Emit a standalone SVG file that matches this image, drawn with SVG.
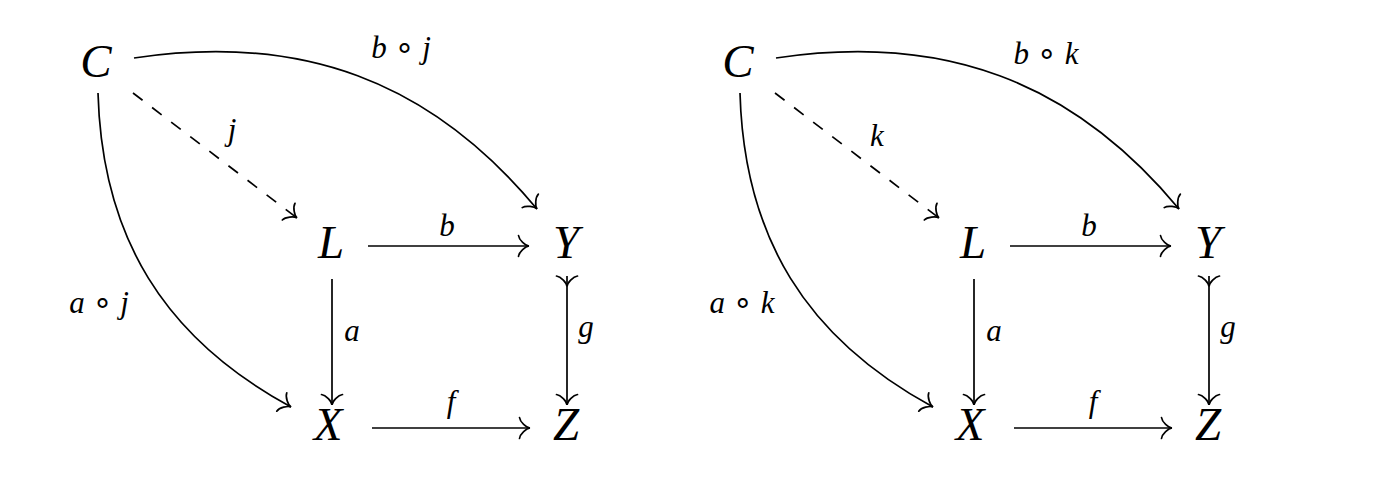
<svg xmlns="http://www.w3.org/2000/svg" width="1381" height="487" viewBox="0 0 1381 487">
<style>
.n{font-family:"Liberation Serif","DejaVu Serif",serif;font-style:italic;font-size:47px;text-anchor:middle;fill:#000}
.l{font-family:"Liberation Serif","DejaVu Serif",serif;font-style:italic;font-size:31px;text-anchor:middle;fill:#000}
.o{font-style:normal;font-family:"DejaVu Sans",sans-serif;font-size:32px}
.e{fill:none;stroke:#000;stroke-width:1.7;marker-end:url(#ah)}
.d{stroke-dasharray:12 12}
.m{marker-start:url(#tail)}
</style>
<defs>
<marker id="ah" markerUnits="userSpaceOnUse" orient="auto" refX="0" refY="0" markerWidth="30" markerHeight="30" overflow="visible">
<path d="M-10.5,-10.5 C-10,-6 -3.5,-0.3 0,0 C-3.5,0.3 -10,6 -10.5,10.5" fill="none" stroke="#000" stroke-width="1.7" stroke-dasharray="none" stroke-linecap="round"/>
</marker>
<marker id="tail" markerUnits="userSpaceOnUse" orient="auto" refX="0" refY="0" markerWidth="30" markerHeight="30" overflow="visible">
<path d="M0,-10.5 C0.5,-6 7,-0.3 10.5,0 C7,0.3 0.5,6 0,10.5" fill="none" stroke="#000" stroke-width="1.7" stroke-linecap="round"/>
</marker>
</defs>
<g id="left">
<g id="L-C"><text class="n" x="96" y="77">C</text></g>
<g id="L-L"><text class="n" x="331" y="258">L</text></g>
<g id="L-Y"><text class="n" x="566" y="258">Y</text></g>
<g id="L-X"><text class="n" x="328" y="440">X</text></g>
<g id="L-Z"><text class="n" x="566" y="440">Z</text></g>
<g id="L-edges">
<path class="e" d="M134,58 C300,33 430,80 537,209"/>
<path class="e" d="M98,93 C102,237 164,338 291,407"/>
<path class="e d" d="M133,93 L297,218"/>
<path class="e" d="M368,246 H529"/>
<path class="e" d="M372,428 H530"/>
<path class="e" d="M332,279 V405"/>
<path class="e m" d="M567,276 V405"/>
<text class="l" x="401" y="58">b <tspan class="o">∘</tspan> j</text>
<text class="l" x="232" y="140">j</text>
<text class="l" x="99" y="313">a <tspan class="o">∘</tspan> j</text>
<text class="l" x="447" y="236">b</text>
<text class="l" x="352" y="341">a</text>
<text class="l" x="586" y="337">g</text>
<text class="l" x="451" y="412">f</text>
</g>
</g>
<g id="right" transform="translate(642,0)">
<g id="R-C"><text class="n" x="96" y="77">C</text></g>
<g id="R-L"><text class="n" x="331" y="258">L</text></g>
<g id="R-Y"><text class="n" x="566" y="258">Y</text></g>
<g id="R-X"><text class="n" x="328" y="440">X</text></g>
<g id="R-Z"><text class="n" x="566" y="440">Z</text></g>
<g id="R-edges">
<path class="e" d="M134,58 C300,33 430,80 537,209"/>
<path class="e" d="M98,93 C102,237 164,338 291,407"/>
<path class="e d" d="M133,93 L297,218"/>
<path class="e" d="M368,246 H529"/>
<path class="e" d="M372,428 H530"/>
<path class="e" d="M332,279 V405"/>
<path class="e m" d="M567,276 V405"/>
<text class="l" x="404" y="64">b <tspan class="o">∘</tspan> k</text>
<text class="l" x="235" y="146">k</text>
<text class="l" x="100" y="313">a <tspan class="o">∘</tspan> k</text>
<text class="l" x="447" y="236">b</text>
<text class="l" x="352" y="341">a</text>
<text class="l" x="586" y="337">g</text>
<text class="l" x="451" y="412">f</text>
</g>
</g>
</svg>
